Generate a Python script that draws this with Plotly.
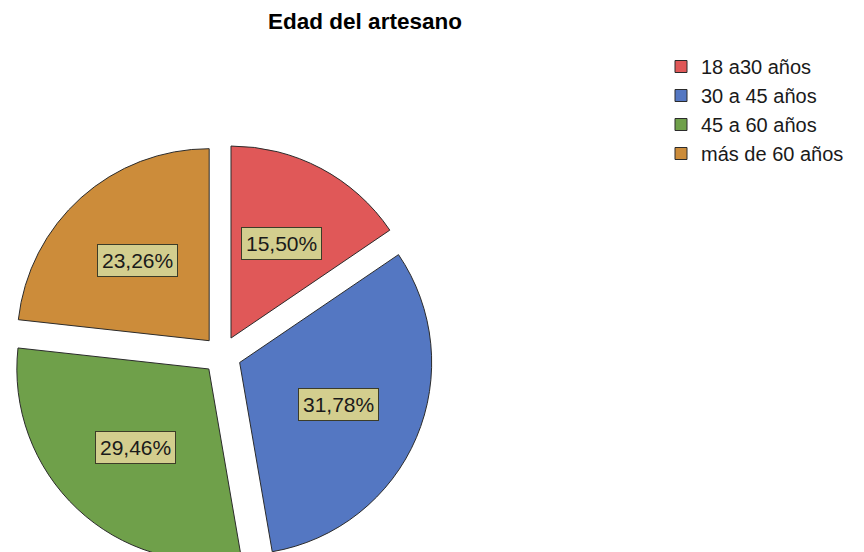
import numpy as np
import plotly.graph_objects as go

# datos: conteo por grupo de edad (n = 129)
grupos = ["18 a30 años", "30 a 45 años", "45 a 60 años", "más de 60 años"]
conteos = [20, 41, 38, 30]
colores = ["#e05858", "#5477c2", "#6fa04a", "#cc8c3a"]

W, H = 864, 560
OFF = 8                    # margen del body de la pagina
cx, cy = 222 - OFF, 355 - OFF   # centro del pastel (px de la figura)
pull = 0.1
r = 192
half = r * (1 + pull)

total = sum(conteos)
pct = [c / total * 100 for c in conteos]
etiquetas = [f"{p:.2f}".replace(".", ",") + "%" for p in pct]

fig = go.Figure()
fig.add_trace(go.Pie(
    labels=grupos, values=conteos, sort=False, direction="clockwise",
    rotation=0, pull=[pull] * 4, textinfo="none", hoverinfo="label+percent",
    marker=dict(colors=colores, line=dict(color="#2b2b2b", width=1)),
    domain=dict(x=[(cx - half) / W, (cx + half) / W],
                y=[(H - cy - half) / H, (H - cy + half) / H]),
))

# etiquetas en caja, en el angulo medio de cada sector
ang = np.cumsum([0] + pct[:-1]) + np.array(pct) / 2
ang = np.radians(ang * 3.6)
d = pull * r + 0.56 * r
anns = []
for a, t in zip(ang, etiquetas):
    x = cx + d * np.sin(a)
    y = cy - d * np.cos(a)
    anns.append(dict(
        x=x / W, y=1 - y / H, xref="paper", yref="paper", text=t,
        xanchor="center", yanchor="middle",
        showarrow=False, font=dict(size=21, color="#1a1a1a"),
        bgcolor="#d3ce8e", bordercolor="#3c3c28", borderwidth=1, borderpad=4,
    ))

fig.update_layout(
    width=W, height=H,
    margin=dict(l=0, r=0, t=0, b=0),
    paper_bgcolor="white",
    font=dict(family="Liberation Sans, Arial, sans-serif", color="#1a1a1a"),
    title=dict(text="<b>Edad del artesano</b>", x=(365 - OFF) / W, xanchor="center",
               y=1 - (21 - OFF) / H, yanchor="middle",
               font=dict(size=22.5, color="black")),
    legend=dict(x=(661 - OFF) / W, y=1 - (47 - OFF) / H, xanchor="left", yanchor="top",
                font=dict(size=20), traceorder="normal"),
    annotations=anns,
)

fig.write_html("out.html")
